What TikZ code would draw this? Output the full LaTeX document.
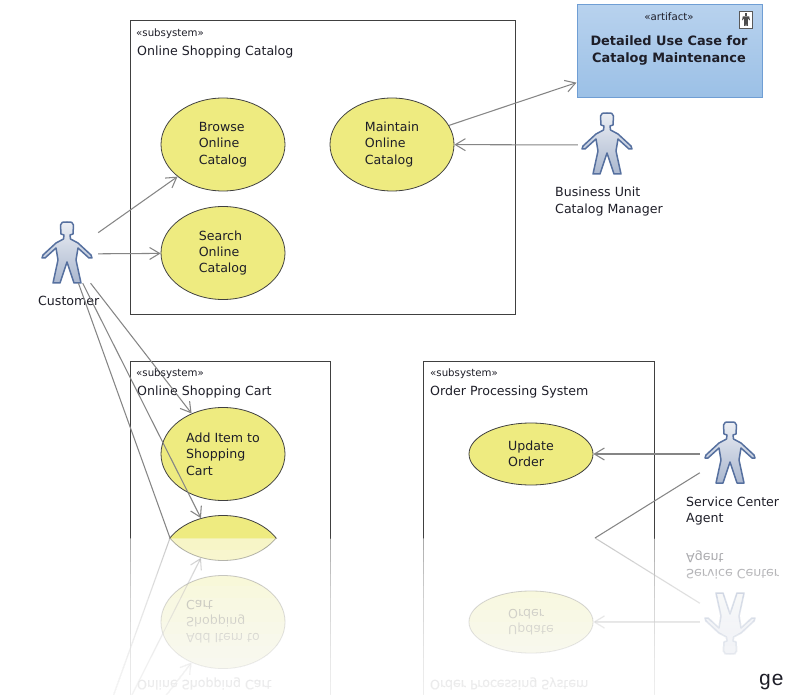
\documentclass[tikz,border=0pt]{standalone}
\usepackage{fontspec}
\setmainfont{DejaVu Sans}
\newfontfamily\gefont{Liberation Mono}
\usetikzlibrary{arrows.meta,shapes.geometric}
\definecolor{usefill}{HTML}{EEEB80}
\definecolor{lineg}{HTML}{858585}
\definecolor{actline}{HTML}{56709F}
\definecolor{artline}{HTML}{6F9ED4}
\definecolor{arttop}{HTML}{B8D2EE}
\definecolor{artbot}{HTML}{9BC0E6}
\definecolor{inktext}{HTML}{1E1E28}
\newcommand\txt{\fontsize{12.6}{16.4}\selectfont}
\newcommand\sm{\fontsize{10.2}{12}\selectfont}
\tikzset{
  x=1pt,y=-1pt,
  sysbox/.style={draw=black!75,line width=1pt,fill=white,rectangle,inner sep=0},
  usecase/.style={ellipse,draw=black!75,line width=.8pt,fill=usefill,inner sep=0,minimum width=124pt,minimum height=93pt,align=left,text=inktext,font=\txt},
  smallcase/.style={usecase,minimum height=62pt},
  actorhit/.style={rectangle,inner sep=0,minimum width=60pt,minimum height=58pt},
  lab/.style={inner sep=0,align=left,anchor=west,text=inktext,font=\txt},
  stereo/.style={inner sep=0,anchor=west,text=inktext,font=\sm},
  conn/.style={draw=lineg,line width=1.05pt},
  arr/.style={conn,-{Straight Barb[length=10pt,width=12pt,line width=1.05pt]}},
  artbox/.style={rectangle,draw=artline,line width=1pt,top color=arttop,bottom color=artbot,inner sep=0,minimum width=185pt,minimum height=93pt},
  actorpic/.pic={
    \draw[actline,line width=1.5pt,line join=round,top color=white!88!actline,bottom color=white!50!actline]
      (-3,13) -- (-6,12) -- (-6.5,3) .. controls (-6.5,0) and (-4,0) .. (0,0)
      .. controls (4,0) and (6.5,0) .. (6.5,3) -- (6,12) -- (3,13) -- (3.5,17)
      -- (11,21) -- (24,33) -- (25,36) -- (22,36) -- (11,26) -- (9,38) -- (14,61) -- (7,61)
      -- (0,40) -- (-7,61) -- (-14,61) -- (-9,38) -- (-11,26) -- (-22,36) -- (-25,36) -- (-24,33)
      -- (-11,21) -- (-3.5,17) -- cycle;
  },
  iconpic/.pic={
    \fill[black!70] (-1.3,0) rectangle (1.3,2.6);
    \fill[black!70] (-3.2,3.4) -- (3.2,3.4) -- (4,7.5) -- (1.8,5.5) -- (2,13) -- (.4,13) -- (0,9) -- (-.4,13) -- (-2,13) -- (-1.8,5.5) -- (-4,7.5) -- cycle;
  }
}
% the part of the picture whose mirror image falls below the page: not mirrored
\newcommand\toppart{%
  \node[sysbox,minimum width=385pt,minimum height=294pt] (catalog) at (322.5,168) {};
  \node[stereo] (s1) at (136,33.5) {«subsystem»};
  \node[lab] (t1) at (137,52) {Online Shopping Catalog};
  \node[usecase] (browse) at (223,144.5) {\vspace*{2pt}Browse\\Online\\Catalog};
  \node[usecase] (maintain) at (392,144.5) {\vspace*{2pt}Maintain\\Online\\Catalog};
  \node[usecase] (search) at (223,253) {\vspace*{2pt}Search\\Online\\Catalog};
  \node[artbox] (artifact) at (669.5,51.5) {};
  \node[inner sep=0,font=\sm,text=inktext] (astereo) at (669,17) {«artifact»};
  \node[inner sep=0,align=center,text=inktext,font=\fontsize{12.9}{17}\selectfont\bfseries] (atitle) at (669,50) {Detailed Use Case for\\Catalog Maintenance};
  \node[rectangle,draw=black!65,fill=white,line width=.7pt,inner sep=0,minimum width=13pt,minimum height=17pt] (aicon) at (746,20) {};
  \pic at (746,13) {iconpic};
  \node[lab] (clabel) at (38,301) {Customer};
  \node[actorhit] (bum) at (608,145) {};
  \pic at (607,113) {actorpic};
  \node[lab] (blabel) at (555,201.5) {Business Unit\\Catalog Manager};
}
\newcommand\lowerpart{%
  \node[sysbox,minimum width=200pt,minimum height=360pt] (cart) at (230,541) {};
  \node[sysbox,minimum width=231pt,minimum height=360pt] (order) at (538.5,541) {};
  \node[lab] (t2) at (137,392) {Online Shopping Cart};
  \node[lab] (t3) at (430,392) {Order Processing System};
  \node[usecase] (additem) at (223,454) {Add Item to\\Shopping\\Cart};
  \node[usecase] (hiddencase) at (223,562) {};
  \node[smallcase] (update) at (531,454) {Update\\Order};
  \node[actorhit] (customer) at (68,254) {};
  \pic at (67,222) {actorpic};
  \node[actorhit] (agent) at (730,454) {};
  \pic at (730,422) {actorpic};
  \node[lab] (alabel) at (686,511) {Service Center\\Agent};
  \coordinate (free1) at (170,538);
  \coordinate (free2) at (595,538);
  \draw[arr] (customer) -- (additem);
  \draw[arr] (customer) -- (hiddencase);
  \draw[conn] (customer) -- (free1);
  \draw[arr] (agent) -- (update);
  \draw[conn] (agent) -- (free2);
}
\begin{document}
\begin{tikzpicture}
\useasboundingbox (0,0) rectangle (785,695);
\fill[white] (0,0) rectangle (785,695);
\begin{scope}
  \clip (0,0) rectangle (785,538);
  \toppart
  \lowerpart
  \node[stereo] (s2) at (136,373.5) {«subsystem»};
  \node[stereo] (s3) at (430,373.5) {«subsystem»};
  \draw[arr] (customer) -- (browse);
  \draw[arr] (customer) -- (search);
  \draw[arr] (maintain) -- (artifact);
  \draw[arr] (bum) -- (maintain);
\end{scope}
\begin{scope}[cm={1,0,0,-1,(0,1076)},transform shape,name prefix=mirror-,opacity=.5]
  \clip (0,0) rectangle (785,538);
  \lowerpart
\end{scope}
\foreach \yy in {538,550,...,694}
  \fill[white,opacity=.135] (0,\yy) rectangle (785,695);
\node[inner sep=0,anchor=west,font=\gefont\fontsize{21}{21}\selectfont,text=inktext] (ge) at (758.5,682) {ge};
\end{tikzpicture}
\end{document}
